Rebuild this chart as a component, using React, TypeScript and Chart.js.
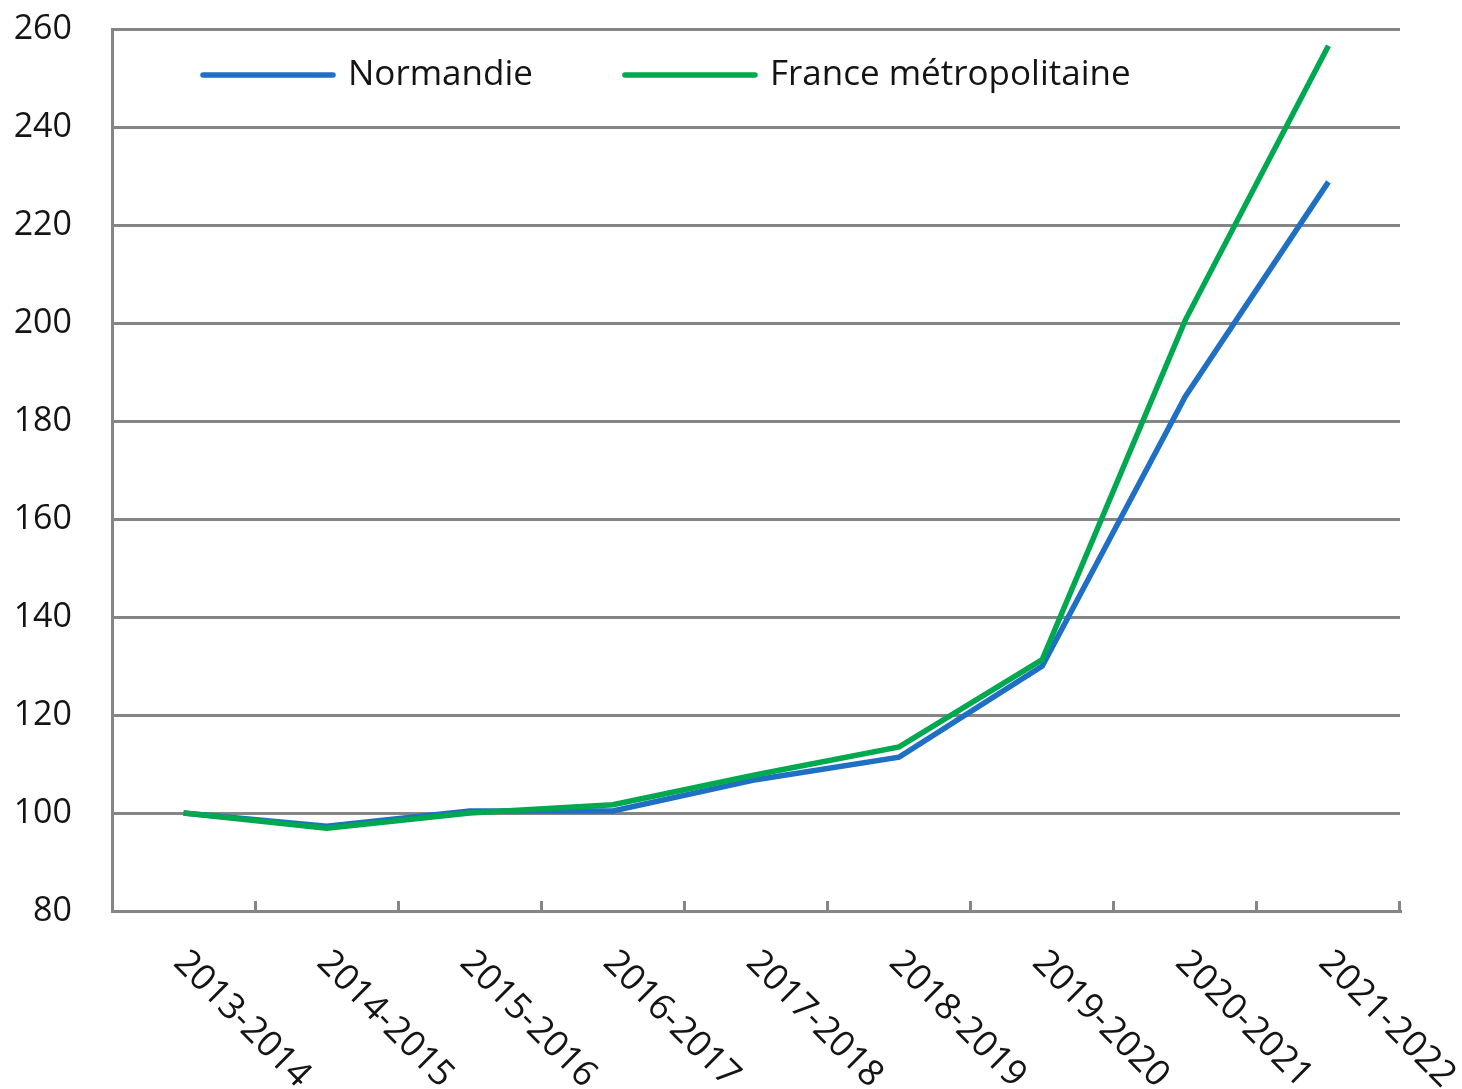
import React, { useEffect, useRef } from "react";
import { Chart, registerables } from "chart.js";

Chart.register(...registerables);

const categories = [
  "2013-2014",
  "2014-2015",
  "2015-2016",
  "2016-2017",
  "2017-2018",
  "2018-2019",
  "2019-2020",
  "2020-2021",
  "2021-2022",
];
const normandie = [100, 97.3, 100.4, 100.4, 106.8, 111.4, 130.0, 185.0, 228.8];
const franceMetro = [100, 96.9, 100.0, 101.7, 107.8, 113.5, 131.3, 200.6, 256.6];
const seriesLabels = ["Normandie", "France métropolitaine"];
const yMin = 80;
const yMax = 260;
const yStep = 20;

const FONT = "'Open Sans', 'Noto Sans', sans-serif";
const TEXT = "#141414";
const GRID = "#858585";

const xLabelsPlugin = {
  id: "rotatedXLabels",
  afterDraw(chart: any) {
    const x = chart.scales.x;
    const ctx = chart.ctx;
    ctx.save();
    ctx.font = `500 36px ${FONT}`;
    ctx.fillStyle = TEXT;
    ctx.textAlign = "left";
    ctx.textBaseline = "middle";
    const labels = chart.data.labels as string[];
    labels.forEach((lab, i) => {
      const px = x.getPixelForTick(i);
      ctx.save();
      ctx.translate(px - 4, x.top + 46);
      ctx.rotate(Math.PI / 4);
      ctx.fillText(lab, 0, 0);
      ctx.restore();
    });
    ctx.restore();
  },
};

const legendPlugin = {
  id: "insideLegend",
  afterDraw(chart: any) {
    const ctx = chart.ctx;
    const area = chart.chartArea;
    ctx.save();
    ctx.font = `500 35px ${FONT}`;
    ctx.textBaseline = "middle";
    ctx.textAlign = "left";
    let cx = area.left + 91;
    const cy = area.top + 46;
    chart.data.datasets.forEach((ds: any) => {
      ctx.strokeStyle = ds.borderColor;
      ctx.lineWidth = 5.5;
      ctx.lineCap = "round";
      ctx.beginPath();
      ctx.moveTo(cx, cy);
      ctx.lineTo(cx + 130, cy);
      ctx.stroke();
      ctx.fillStyle = TEXT;
      const tx = cx + 145;
      ctx.fillText(ds.label, tx, cy);
      cx = tx + ctx.measureText(ds.label).width + 92;
    });
    ctx.restore();
  },
};

export default function App() {
  const canvasRef = useRef<HTMLCanvasElement | null>(null);

  useEffect(() => {
    document.body.style.margin = "0";
    document.body.style.overflow = "hidden";
    const canvas = canvasRef.current;
    if (!canvas) return;
    const chart = new Chart(canvas, {
      type: "line",
      data: {
        labels: categories,
        datasets: [
          {
            label: seriesLabels[0],
            data: normandie,
            borderColor: "#1F6FC5",
            backgroundColor: "#1F6FC5",
            borderWidth: 5.5,
            pointRadius: 0,
            tension: 0,
            order: 2,
          },
          {
            label: seriesLabels[1],
            data: franceMetro,
            borderColor: "#00A84F",
            backgroundColor: "#00A84F",
            borderWidth: 5.5,
            pointRadius: 0,
            tension: 0,
            order: 1,
          },
        ],
      },
      options: {
        responsive: false,
        devicePixelRatio: 1,
        animation: false,
        layout: { padding: { top: 29, right: 62, bottom: 0, left: 0 } },
        plugins: {
          legend: { display: false },
          tooltip: { enabled: false },
        },
        scales: {
          x: {
            type: "category",
            offset: true,
            grid: {
              offset: true,
              drawOnChartArea: false,
              drawTicks: true,
              tickLength: -10,
              color: GRID,
              lineWidth: 3,
            },
            border: { display: true, color: GRID, width: 3 },
            ticks: { display: false },
            afterFit(scale: any) {
              scale.height = 178;
              scale.paddingLeft = 0;
              scale.paddingRight = 0;
            },
          },
          y: {
            min: yMin,
            max: yMax,
            grid: { color: GRID, lineWidth: 3, drawTicks: false },
            border: { display: true, color: GRID, width: 3 },
            ticks: {
              stepSize: yStep,
              padding: 40,
              color: TEXT,
              font: { family: FONT, size: 34, weight: "500" },
            },
            afterFit(scale: any) {
              scale.width = 112;
              scale.paddingTop = 0;
              scale.paddingBottom = 0;
            },
          },
        },
      },
      plugins: [xLabelsPlugin, legendPlugin],
    });
    return () => chart.destroy();
  }, []);

  return (
    <div style={{ width: 1462, height: 1089, background: "#fff" }}>
      <canvas ref={canvasRef} width={1462} height={1089} style={{ width: 1462, height: 1089, display: "block" }} />
    </div>
  );
}
